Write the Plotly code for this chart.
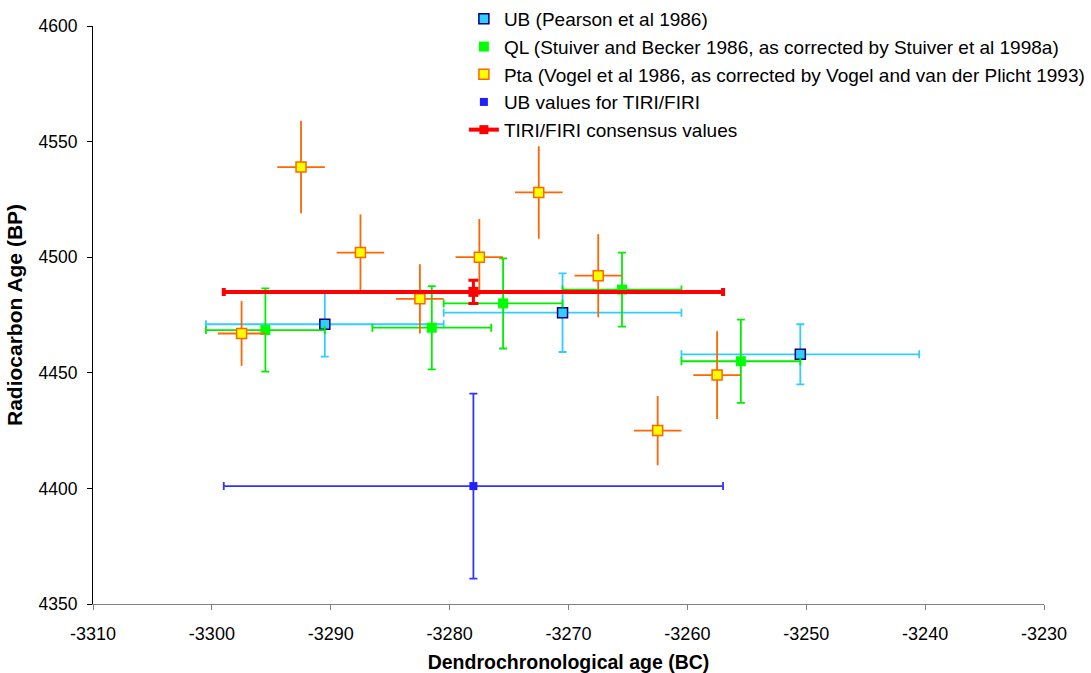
import plotly.graph_objects as go

# UB (Pearson et al 1986)
ub_x = [-3290.5, -3270.5, -3250.5]
ub_y = [4471, 4476, 4458]
ub_xerr = [10, 10, 10]
ub_yerr = [14, 17, 13]

# QL
ql_x = [-3295.5, -3281.5, -3275.5, -3265.5, -3255.5]
ql_y = [4468.5, 4469.5, 4480, 4486, 4455]
ql_xerr = [5, 5, 5, 5, 5]
ql_yerr = [18, 18, 19.5, 16, 18]

# Pta
pta_x = [-3297.5, -3292.5, -3287.5, -3282.5, -3277.5, -3272.5, -3267.5, -3262.5, -3257.5]
pta_y = [4467, 4539, 4502, 4482, 4500, 4528, 4492, 4425, 4449]
pta_xerr = [2, 2, 2, 2, 2, 2, 2, 2, 2]
pta_yerr = [14, 20, 16.5, 15, 16.5, 20, 18, 15, 19]

# UB values for TIRI/FIRI
tiri_ub_x = [-3278]
tiri_ub_y = [4401]
tiri_ub_xerr = [21]
tiri_ub_yerr = [40]

# TIRI/FIRI consensus values
cons_x = [-3278]
cons_y = [4485]
cons_xerr = [21]
cons_yerr = [5]

# tick labels
x_tickvals = [-3310, -3300, -3290, -3280, -3270, -3260, -3250, -3240, -3230]
x_ticktext = ["-3310", "-3300", "-3290", "-3280", "-3270", "-3260", "-3250", "-3240", "-3230"]
y_tickvals = [4350, 4400, 4450, 4500, 4550, 4600]
y_ticktext = ["4350", "4400", "4450", "4500", "4550", "4600"]

FONT = "Liberation Sans, Arial, sans-serif"

fig = go.Figure()

fig.add_trace(go.Scatter(
    x=ub_x, y=ub_y, mode="markers", name="UB (Pearson et al 1986)",
    marker=dict(symbol="square", size=10, color="#33CCFF", line=dict(color="#000080", width=1.5)),
    error_x=dict(type="data", array=ub_xerr, color="#33CCFF", thickness=1.8, width=4),
    error_y=dict(type="data", array=ub_yerr, color="#33CCFF", thickness=1.8, width=4),
))
fig.add_trace(go.Scatter(
    x=ql_x, y=ql_y, mode="markers",
    name="QL (Stuiver and Becker 1986, as corrected by Stuiver et al 1998a)",
    marker=dict(symbol="square", size=10, color="#00FF00", line=dict(color="#00FF00", width=0)),
    error_x=dict(type="data", array=ql_xerr, color="#00EE00", thickness=1.8, width=4),
    error_y=dict(type="data", array=ql_yerr, color="#00EE00", thickness=1.8, width=4),
))
fig.add_trace(go.Scatter(
    x=pta_x, y=pta_y, mode="markers",
    name="Pta (Vogel et al 1986, as corrected by Vogel and van der Plicht 1993)",
    marker=dict(symbol="square", size=10, color="#FFFF00", line=dict(color="#FF6600", width=1.5)),
    error_x=dict(type="data", array=pta_xerr, color="#FF6600", thickness=1.8, width=0),
    error_y=dict(type="data", array=pta_yerr, color="#FF6600", thickness=1.8, width=0),
))
fig.add_trace(go.Scatter(
    x=tiri_ub_x, y=tiri_ub_y, mode="markers", name="UB values for TIRI/FIRI",
    marker=dict(symbol="square", size=8, color="#1F1FFF"),
    error_x=dict(type="data", array=tiri_ub_xerr, color="#3333FF", thickness=1.8, width=4),
    error_y=dict(type="data", array=tiri_ub_yerr, color="#3333FF", thickness=1.8, width=4),
))
fig.add_trace(go.Scatter(
    x=cons_x, y=cons_y, mode="markers", name="TIRI/FIRI consensus values",
    showlegend=False,
    marker=dict(symbol="square", size=10, color="#FF0000"),
    error_x=dict(type="data", array=cons_xerr, color="#FF0000", thickness=4, width=4),
    error_y=dict(type="data", array=cons_yerr, color="#FF0000", thickness=3, width=5),
))
# legend entry for the consensus values (line + marker, as in the original legend)
fig.add_trace(go.Scatter(
    x=[None], y=[None], mode="lines+markers", name="TIRI/FIRI consensus values",
    line=dict(color="#FF0000", width=4),
    marker=dict(symbol="square", size=9, color="#FF0000"),
))

fig.update_layout(
    width=1091, height=673,
    margin=dict(l=93, r=47, t=26, b=69, autoexpand=False),
    plot_bgcolor="white", paper_bgcolor="white",
    font=dict(family=FONT, size=17, color="black"),
    legend=dict(x=0.39, y=1.045, xanchor="left", yanchor="top",
                bgcolor="rgba(0,0,0,0)", font=dict(size=19), tracegroupgap=0,
                itemwidth=30),
    xaxis=dict(
        range=[-3310, -3230], tickmode="array", tickvals=x_tickvals, ticktext=x_ticktext,
        automargin=False,
        showgrid=False, zeroline=False, showline=True, linecolor="#808080", linewidth=1,
        ticks="outside", ticklen=5, tickcolor="#808080", ticklabelstandoff=8,
        tickfont=dict(size=18),
        title=dict(text="<b>Dendrochronological age (BC)</b>", font=dict(size=19.5), standoff=14),
    ),
    yaxis=dict(
        range=[4350, 4600], tickmode="array", tickvals=y_tickvals, ticktext=y_ticktext,
        automargin=False,
        showgrid=False, zeroline=False, showline=True, linecolor="black", linewidth=1,
        ticks="outside", ticklen=5, tickcolor="black", ticklabelstandoff=6,
        tickfont=dict(size=17.5),
        title=dict(text="<b>Radiocarbon Age (BP)</b>", font=dict(size=21), standoff=10),
    ),
)

fig.write_html("out.html")
